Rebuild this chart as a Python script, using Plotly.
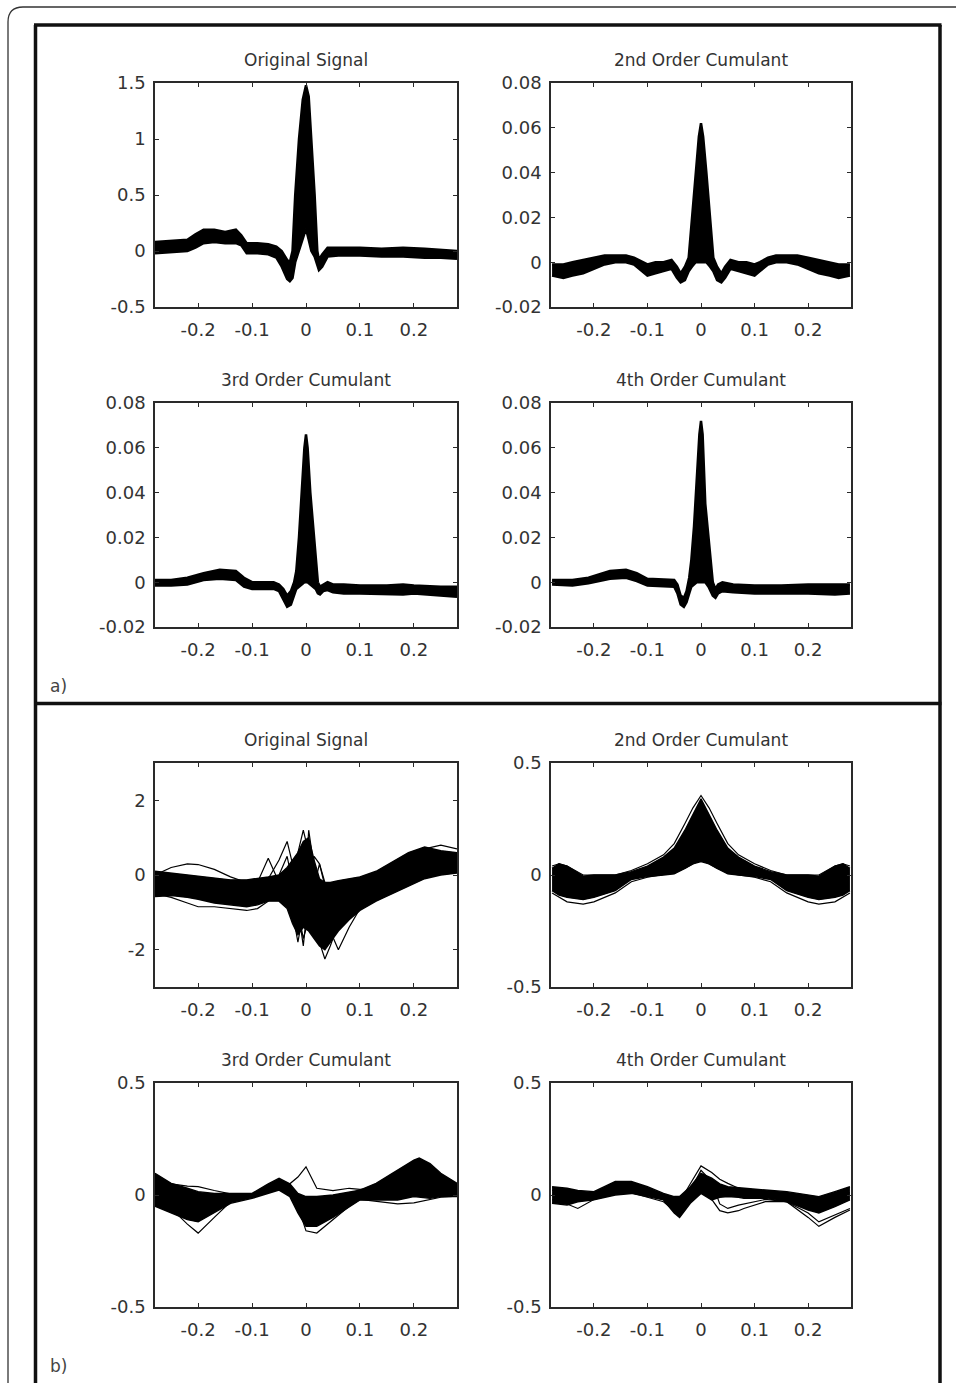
import plotly.graph_objects as go

W, H = 956, 1383

# ---------------- data ----------------
x_ticks = [-0.2, -0.1, 0, 0.1, 0.2]
x_tick_text = ["-0.2", "-0.1", "0", "0.1", "0.2"]
y_ticks_orig_a = [-0.5, 0, 0.5, 1, 1.5]
y_ticks_orig_a_text = ["-0.5", "0", "0.5", "1", "1.5"]
y_ticks_cum_a = [-0.02, 0, 0.02, 0.04, 0.06, 0.08]
y_ticks_cum_a_text = ["-0.02", "0", "0.02", "0.04", "0.06", "0.08"]
y_ticks_orig_b = [-2, 0, 2]
y_ticks_orig_b_text = ["-2", "0", "2"]
y_ticks_cum_b = [-0.5, 0, 0.5]
y_ticks_cum_b_text = ["-0.5", "0", "0.5"]

titles = ["Original Signal", "2nd Order Cumulant", "3rd Order Cumulant", "4th Order Cumulant"]

# panel a) original signal
xa1 = [-0.28, -0.25, -0.22, -0.205, -0.19, -0.17, -0.15, -0.13, -0.12, -0.11, -0.09, -0.07, -0.055, -0.045,
       -0.035, -0.03, -0.025, -0.02, -0.013, -0.006, 0.0, 0.005, 0.01, 0.016, 0.021, 0.024, 0.03, 0.04, 0.06,
       0.1, 0.14, 0.18, 0.22, 0.25, 0.28]
hi_a1 = [0.08, 0.09, 0.10, 0.15, 0.19, 0.19, 0.17, 0.19, 0.14, 0.07, 0.07, 0.06, 0.04, 0.0, -0.08, -0.1, 0.0,
         0.5, 1.0, 1.35, 1.48, 1.38, 1.0, 0.5, 0.0, -0.08, -0.03, 0.03, 0.03, 0.03, 0.02, 0.03, 0.02, 0.01, 0.0]
lo_a1 = [-0.02, -0.01, 0.0, 0.03, 0.07, 0.08, 0.07, 0.07, 0.05, -0.02, -0.02, -0.03, -0.06, -0.14, -0.25, -0.27,
         -0.24, -0.1, 0.0, 0.1, 0.2, 0.1, 0.0, -0.05, -0.12, -0.17, -0.14, -0.05, -0.04, -0.04, -0.05, -0.05,
         -0.06, -0.06, -0.07]

# panel a) 2nd order cumulant
xa2 = [-0.278, -0.257, -0.24, -0.22, -0.2, -0.18, -0.16, -0.14, -0.125, -0.11, -0.1, -0.085, -0.07, -0.055,
       -0.045, -0.038, -0.03, -0.023, -0.017, -0.01, -0.004, 0.0, 0.004, 0.01, 0.017, 0.023, 0.03, 0.038, 0.045,
       0.055, 0.07, 0.085, 0.1, 0.11, 0.125, 0.14, 0.16, 0.18, 0.2, 0.22, 0.24, 0.257, 0.278]
hi_a2 = [-0.001, -0.001, 0.0, 0.001, 0.002, 0.003, 0.003, 0.003, 0.002, 0.0, -0.001, 0.0, 0.0, 0.001, -0.002,
         -0.005, -0.002, 0.002, 0.02, 0.04, 0.056, 0.062, 0.056, 0.04, 0.02, 0.002, -0.002, -0.005, -0.002,
         0.001, 0.0, 0.0, -0.001, 0.0, 0.002, 0.003, 0.003, 0.003, 0.002, 0.001, 0.0, -0.001, -0.001]
lo_a2 = [-0.006, -0.007, -0.006, -0.005, -0.003, -0.001, 0.0, 0.0, -0.001, -0.004, -0.006, -0.005, -0.004,
         -0.003, -0.007, -0.009, -0.008, -0.004, -0.002, 0.0, 0.0, 0.0, 0.0, 0.0, -0.002, -0.004, -0.008,
         -0.009, -0.007, -0.003, -0.004, -0.005, -0.006, -0.004, -0.001, 0.0, 0.0, -0.001, -0.003, -0.005,
         -0.006, -0.007, -0.006]

# panel a) 3rd order cumulant
xa3 = [-0.28, -0.25, -0.22, -0.19, -0.16, -0.13, -0.115, -0.1, -0.08, -0.06, -0.05, -0.042, -0.035, -0.028,
       -0.022, -0.018, -0.013, -0.008, -0.003, 0.0, 0.003, 0.008, 0.013, 0.018, 0.022, 0.026, 0.032, 0.04,
       0.05, 0.07, 0.1, 0.15, 0.18, 0.2, 0.25, 0.28]
hi_a3 = [0.001, 0.001, 0.002, 0.004, 0.0055, 0.005, 0.002, 0.0, 0.0, 0.0, -0.001, -0.003, -0.006, -0.004, 0.0,
         0.005, 0.02, 0.04, 0.06, 0.066, 0.06, 0.04, 0.025, 0.008, 0.0, -0.002, -0.001, 0.0, -0.001, -0.001,
         -0.0015, -0.0015, -0.001, -0.0015, -0.002, -0.002]
lo_a3 = [-0.0015, -0.0015, -0.001, 0.001, 0.0015, 0.001, -0.002, -0.003, -0.003, -0.003, -0.004, -0.008, -0.011,
         -0.01, -0.006, -0.003, -0.002, -0.001, 0.0, 0.0, 0.0, -0.001, -0.002, -0.003, -0.005, -0.0055, -0.004,
         -0.0035, -0.0045, -0.005, -0.005, -0.0055, -0.0055, -0.005, -0.006, -0.0065]

# panel a) 4th order cumulant
xa4 = [-0.278, -0.24, -0.21, -0.17, -0.14, -0.12, -0.1, -0.07, -0.05, -0.044, -0.038, -0.032, -0.027, -0.022,
       -0.018, -0.013, -0.008, -0.003, 0.0, 0.003, 0.008, 0.014, 0.018, 0.022, 0.027, 0.032, 0.04, 0.06, 0.1,
       0.15, 0.2, 0.25, 0.278]
hi_a4 = [0.001, 0.001, 0.002, 0.005, 0.0055, 0.004, 0.0015, 0.001, 0.001, -0.001, -0.006, -0.007, -0.004, 0.002,
         0.01, 0.025, 0.045, 0.066, 0.072, 0.066, 0.035, 0.02, 0.01, 0.0, -0.003, -0.001, 0.0, -0.001, -0.0015,
         -0.0015, -0.001, -0.001, -0.001]
lo_a4 = [-0.001, -0.0015, -0.0005, 0.0015, 0.002, 0.0005, -0.0015, -0.002, -0.002, -0.005, -0.01, -0.011,
         -0.009, -0.005, -0.002, -0.001, 0.0, 0.0, 0.0, 0.0, 0.0, -0.002, -0.004, -0.006, -0.007, -0.005, -0.004,
         -0.0045, -0.005, -0.005, -0.005, -0.0055, -0.005]

# panel b) original signal
xb1 = [-0.28, -0.25, -0.22, -0.2, -0.17, -0.14, -0.11, -0.09, -0.07, -0.05, -0.035, -0.025, -0.015, -0.005,
       0.005, 0.015, 0.025, 0.035, 0.045, 0.06, 0.08, 0.1, 0.13, 0.16, 0.19, 0.22, 0.25, 0.28]
hi_b1 = [0.1, 0.05, 0.0, -0.05, -0.1, -0.13, -0.13, -0.1, -0.05, 0.0, 0.2, 0.4, 0.6, 0.9, 1.0, 0.4, -0.1, -0.2,
         -0.2, -0.15, -0.1, -0.05, 0.1, 0.35, 0.6, 0.75, 0.65, 0.6]
lo_b1 = [-0.58, -0.55, -0.6, -0.65, -0.75, -0.8, -0.85, -0.8, -0.7, -0.7, -0.9, -1.3, -1.6, -1.4, -1.5, -1.7,
         -1.9, -2.0, -1.8, -1.5, -1.2, -0.95, -0.7, -0.5, -0.3, -0.1, 0.0, 0.05]
beats_b1 = [
    [-0.3, -0.3, -0.35, -0.4, -0.45, -0.5, -0.5, -0.45, -0.4, -0.3, -0.2, 0.1, 0.6, 1.2, 0.6, -0.8, -1.8, -2.25,
     -1.9, -1.3, -0.9, -0.6, -0.4, -0.2, 0.1, 0.4, 0.5, 0.45],
    [0.0, 0.2, 0.3, 0.28, 0.15, -0.05, -0.2, -0.2, -0.1, 0.4, 0.9, 0.3, -0.9, -1.9, -0.5, 0.5, 0.3, -0.2, -0.5,
     -0.6, -0.5, -0.4, -0.2, 0.1, 0.4, 0.7, 0.8, 0.7],
    [-0.5, -0.6, -0.75, -0.85, -0.85, -0.9, -0.95, -0.9, -0.7, 0.0, 0.5, -0.2, -1.0, -1.7, -1.2, -0.3, 0.3, -0.3,
     -1.5, -2.0, -1.4, -0.9, -0.6, -0.4, -0.2, -0.05, 0.1, 0.3],
    [-0.2, -0.2, -0.3, -0.35, -0.4, -0.45, -0.4, -0.2, 0.45, -0.2, -0.5, -1.0, -1.8, -1.0, 1.2, 0.2, -1.2, -1.8,
     -1.4, -1.0, -0.8, -0.6, -0.2, 0.2, 0.5, 0.6, 0.55, 0.5],
]

# panel b) 2nd order cumulant
xb2 = [-0.278, -0.265, -0.25, -0.22, -0.2, -0.16, -0.13, -0.1, -0.07, -0.05, -0.03, -0.015, 0.0, 0.015, 0.03,
       0.05, 0.07, 0.1, 0.13, 0.16, 0.2, 0.22, 0.25, 0.265, 0.278]
hi_b2 = [0.03, 0.05, 0.04, -0.005, 0.0, 0.0, 0.015, 0.04, 0.08, 0.12, 0.2, 0.27, 0.34, 0.27, 0.2, 0.12, 0.08,
         0.04, 0.015, 0.0, 0.0, -0.005, 0.04, 0.05, 0.03]
lo_b2 = [-0.07, -0.09, -0.1, -0.11, -0.1, -0.07, -0.02, -0.007, 0.0, 0.005, 0.03, 0.05, 0.06, 0.05, 0.03, 0.005,
         0.0, -0.007, -0.02, -0.07, -0.1, -0.11, -0.1, -0.09, -0.07]
beats_b2 = [
    [-0.08, -0.1, -0.12, -0.13, -0.12, -0.08, -0.03, -0.01, 0.0, 0.01, 0.03, 0.05, 0.065, 0.05, 0.03, 0.01, 0.0,
     -0.01, -0.03, -0.08, -0.12, -0.13, -0.12, -0.1, -0.08],
    [0.04, 0.05, 0.04, 0.0, 0.0, 0.0, 0.02, 0.05, 0.09, 0.14, 0.23, 0.3, 0.355, 0.3, 0.23, 0.14, 0.09, 0.05, 0.02,
     0.0, 0.0, 0.0, 0.04, 0.05, 0.04],
]

# panel b) 3rd order cumulant
xb3 = [-0.28, -0.25, -0.22, -0.2, -0.17, -0.14, -0.1, -0.07, -0.05, -0.03, -0.015, 0.0, 0.02, 0.05, 0.08, 0.1,
       0.13, 0.17, 0.2, 0.21, 0.23, 0.25, 0.28]
hi_b3 = [0.097, 0.052, 0.03, 0.015, 0.007, 0.007, 0.007, 0.05, 0.075, 0.05, 0.007, -0.007, -0.007, 0.0, 0.015,
         0.022, 0.052, 0.11, 0.156, 0.165, 0.14, 0.097, 0.052]
lo_b3 = [-0.05, -0.08, -0.11, -0.12, -0.08, -0.037, -0.015, 0.007, 0.022, -0.007, -0.08, -0.14, -0.14, -0.1,
         -0.052, -0.022, -0.022, -0.022, -0.007, -0.01, -0.015, -0.007, -0.007]
beats_b3 = [
    [0.0, -0.06, -0.13, -0.17, -0.1, -0.03, 0.0, 0.04, 0.06, 0.03, -0.05, -0.16, -0.17, -0.11, -0.05, -0.02, 0.01,
     0.05, 0.1, 0.12, 0.1, 0.06, 0.03],
    [0.08, 0.05, 0.04, 0.037, 0.02, 0.005, 0.0, 0.04, 0.06, 0.05, 0.08, 0.126, 0.03, 0.02, 0.03, 0.025, 0.03,
     0.06, 0.1, 0.12, 0.11, 0.08, 0.05],
    [-0.03, -0.05, -0.08, -0.09, -0.06, -0.03, -0.01, 0.01, 0.03, 0.0, -0.06, -0.1, -0.12, -0.08, -0.04, -0.02,
     -0.03, -0.04, -0.035, -0.03, -0.02, -0.01, -0.005],
]

# panel b) 4th order cumulant
xb4 = [-0.278, -0.25, -0.23, -0.2, -0.16, -0.13, -0.1, -0.07, -0.05, -0.04, -0.02, 0.0, 0.02, 0.035, 0.05, 0.07,
       0.08, 0.12, 0.16, 0.2, 0.22, 0.25, 0.278]
hi_b4 = [0.037, 0.03, 0.02, 0.015, 0.06, 0.06, 0.037, 0.007, -0.007, -0.007, 0.037, 0.097, 0.075, 0.05, 0.037,
         0.032, 0.03, 0.022, 0.015, 0.0, -0.007, 0.015, 0.037]
lo_b4 = [-0.037, -0.045, -0.03, -0.022, 0.0, 0.007, -0.007, -0.022, -0.08, -0.1, -0.037, 0.007, -0.022, -0.01,
         -0.007, -0.01, -0.015, -0.015, -0.03, -0.067, -0.08, -0.052, -0.022]
beats_b4 = [
    [0.02, 0.02, 0.01, 0.01, 0.04, 0.05, 0.03, 0.0, -0.02, -0.03, 0.05, 0.13, 0.1, 0.07, 0.052, 0.03, 0.025,
     0.015, 0.005, -0.02, -0.03, -0.01, 0.01],
    [-0.02, -0.04, -0.06, -0.02, 0.01, 0.01, -0.01, -0.03, -0.07, -0.09, -0.03, 0.04, -0.02, -0.07, -0.08, -0.07,
     -0.06, -0.03, -0.03, -0.1, -0.14, -0.1, -0.067],
    [0.0, -0.01, -0.02, 0.0, 0.04, 0.04, 0.02, -0.01, -0.05, -0.06, 0.02, 0.11, 0.06, -0.04, -0.06, -0.045, -0.04,
     -0.02, -0.03, -0.08, -0.12, -0.09, -0.06],
]

# ---------------- layout geometry ----------------
col_px = [(155, 457), (551, 851)]
row_px = [(83, 307), (403, 627), (763, 987), (1083, 1307)]
X_RANGE = [-0.28, 0.28]

panels = [
    (0, 0, titles[0], xa1, hi_a1, lo_a1, [], [-0.5, 1.5], y_ticks_orig_a, y_ticks_orig_a_text),
    (0, 1, titles[1], xa2, hi_a2, lo_a2, [], [-0.02, 0.08], y_ticks_cum_a, y_ticks_cum_a_text),
    (1, 0, titles[2], xa3, hi_a3, lo_a3, [], [-0.02, 0.08], y_ticks_cum_a, y_ticks_cum_a_text),
    (1, 1, titles[3], xa4, hi_a4, lo_a4, [], [-0.02, 0.08], y_ticks_cum_a, y_ticks_cum_a_text),
    (2, 0, titles[0], xb1, hi_b1, lo_b1, beats_b1, [-3, 3], y_ticks_orig_b, y_ticks_orig_b_text),
    (2, 1, titles[1], xb2, hi_b2, lo_b2, beats_b2, [-0.5, 0.5], y_ticks_cum_b, y_ticks_cum_b_text),
    (3, 0, titles[2], xb3, hi_b3, lo_b3, beats_b3, [-0.5, 0.5], y_ticks_cum_b, y_ticks_cum_b_text),
    (3, 1, titles[3], xb4, hi_b4, lo_b4, beats_b4, [-0.5, 0.5], y_ticks_cum_b, y_ticks_cum_b_text),
]

FONT = "DejaVu Sans"
TXT = "#333333"
AX = "#2a2a2a"


def px_x(p):
    return p / W


def px_y(p):
    return 1 - p / H


fig = go.Figure()
layout = dict(template="none", width=W, height=H, autosize=False,
              margin=dict(l=0, r=0, t=0, b=0, pad=0, autoexpand=False),
              paper_bgcolor="white", plot_bgcolor="white", showlegend=False)
annotations = []

for i, (r, c, title, xs, hi, lo, beats, yr, yt, ytt) in enumerate(panels):
    n = "" if i == 0 else str(i + 1)
    xa, ya = "x" + n, "y" + n
    l, rr = col_px[c]
    t, b = row_px[r]
    axcommon = dict(showline=True, linecolor=AX, linewidth=1.5, mirror="ticks", ticks="inside",
                    ticklen=4, tickwidth=1.2, tickcolor=AX, showgrid=False, zeroline=False,
                    automargin=False, tickfont=dict(family=FONT, size=18, color=TXT))
    layout["xaxis" + n] = dict(domain=[px_x(l), px_x(rr)], anchor=ya, range=X_RANGE,
                               tickvals=x_ticks, ticktext=x_tick_text, ticklabelstandoff=6, **axcommon)
    layout["yaxis" + n] = dict(domain=[px_y(b), px_y(t)], anchor=xa, range=yr,
                               tickvals=yt, ticktext=ytt, ticklabelstandoff=4, **axcommon)
    fig.add_trace(go.Scatter(x=xs + xs[::-1], y=hi + lo[::-1], fill="toself", fillcolor="black",
                             mode="lines", line=dict(width=0, color="black"), xaxis=xa, yaxis=ya,
                             hoverinfo="skip"))
    lw = 2.5 if r < 2 else 1.4
    fig.add_trace(go.Scatter(x=xs, y=hi, mode="lines", line=dict(color="black", width=lw),
                             xaxis=xa, yaxis=ya))
    fig.add_trace(go.Scatter(x=xs, y=lo, mode="lines", line=dict(color="black", width=lw),
                             xaxis=xa, yaxis=ya))
    for bt in beats:
        fig.add_trace(go.Scatter(x=xs, y=bt, mode="lines", line=dict(color="black", width=1.2),
                                 xaxis=xa, yaxis=ya))
    annotations.append(dict(text=title, x=px_x((l + rr) / 2), y=px_y(t - 23), xref="paper", yref="paper",
                            xanchor="center", yanchor="middle", showarrow=False,
                            font=dict(family=FONT, size=17, color=TXT)))

annotations.append(dict(text="a)", x=px_x(48), y=px_y(686), xref="paper", yref="paper", xanchor="left",
                        yanchor="middle", showarrow=False, font=dict(family=FONT, size=17, color="#444")))
annotations.append(dict(text="b)", x=px_x(48), y=px_y(1366), xref="paper", yref="paper", xanchor="left",
                        yanchor="middle", showarrow=False, font=dict(family=FONT, size=17, color="#444")))
layout["annotations"] = annotations


def fx(p):
    return f"{px_x(p):.5f}"


def fy(p):
    return f"{px_y(p):.5f}"


shapes = []
outer = (f"M {fx(8)},{fy(1400)} L {fx(8)},{fy(22)} Q {fx(8)},{fy(7)} {fx(23)},{fy(7)} L {fx(975)},{fy(7)}")
shapes.append(dict(type="path", path=outer, xref="paper", yref="paper", line=dict(color="#333", width=1.3)))
frame = dict(xref="paper", yref="paper", line=dict(color="#111", width=3.5))
shapes.append(dict(type="line", x0=px_x(35.5), x1=px_x(35.5), y0=px_y(25), y1=px_y(1400), **frame))
shapes.append(dict(type="line", x0=px_x(940), x1=px_x(940), y0=px_y(25), y1=px_y(1400), **frame))
shapes.append(dict(type="line", x0=px_x(34), x1=px_x(941.5), y0=px_y(25), y1=px_y(25), **frame))
shapes.append(dict(type="line", x0=px_x(34), x1=px_x(941.5), y0=px_y(703.5), y1=px_y(703.5), **frame))
layout["shapes"] = shapes

fig.update_layout(**layout)
fig.write_html("out.html", config={"displayModeBar": False},
               post_script="document.body.style.margin='0';document.body.style.padding='0';"
                           "document.body.style.overflow='hidden';"
                           "document.documentElement.style.overflow='hidden';")
